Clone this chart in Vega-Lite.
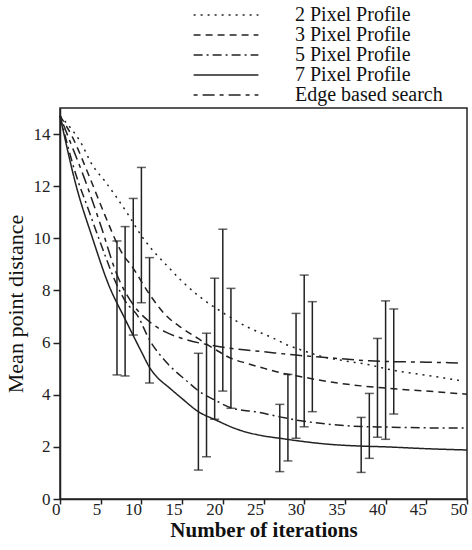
{
  "$schema": "https://vega.github.io/schema/vega-lite/v6.json",
  "width": 407,
  "height": 391,
  "autosize": {"type": "none"},
  "padding": {"left": 60, "top": 108, "right": 5, "bottom": 51},
  "background": "white",
  "config": {
    "view": {"stroke": "#222", "strokeWidth": 1.5},
    "font": "Liberation Serif",
    "axis": {
      "domainColor": "#222", "domainWidth": 1.5, "tickColor": "#222", "tickWidth": 1.5,
      "labelFont": "Liberation Serif", "labelColor": "#222", "labelFontSize": 17,
      "titleFont": "Liberation Serif", "titleColor": "#111", "grid": false
    },
    "legend": {
      "labelFont": "Liberation Serif", "labelFontSize": 20, "labelColor": "#111",
      "symbolType": "M-3.6,0H3.6", "symbolSize": 324, "symbolStrokeWidth": 1.5, "symbolStrokeColor": "#222",
      "symbolFillColor": "transparent",
      "rowPadding": -8.5, "labelOffset": 59
    }
  },
  "datasets": {
    "curves": [
      {"series": "7 Pixel Profile", "x": 0, "y": 14.7},
      {"series": "7 Pixel Profile", "x": 2, "y": 12.0},
      {"series": "7 Pixel Profile", "x": 4, "y": 10.0},
      {"series": "7 Pixel Profile", "x": 6, "y": 8.2},
      {"series": "7 Pixel Profile", "x": 8, "y": 6.9},
      {"series": "7 Pixel Profile", "x": 10, "y": 5.65},
      {"series": "7 Pixel Profile", "x": 11, "y": 5.05},
      {"series": "7 Pixel Profile", "x": 12, "y": 4.65},
      {"series": "7 Pixel Profile", "x": 13.3, "y": 4.3},
      {"series": "7 Pixel Profile", "x": 15, "y": 3.85},
      {"series": "7 Pixel Profile", "x": 17, "y": 3.35},
      {"series": "7 Pixel Profile", "x": 19, "y": 3.05},
      {"series": "7 Pixel Profile", "x": 22, "y": 2.65},
      {"series": "7 Pixel Profile", "x": 25, "y": 2.42},
      {"series": "7 Pixel Profile", "x": 27, "y": 2.33},
      {"series": "7 Pixel Profile", "x": 30, "y": 2.2},
      {"series": "7 Pixel Profile", "x": 33, "y": 2.1},
      {"series": "7 Pixel Profile", "x": 37, "y": 2.03},
      {"series": "7 Pixel Profile", "x": 40, "y": 2.0},
      {"series": "7 Pixel Profile", "x": 45, "y": 1.93},
      {"series": "7 Pixel Profile", "x": 50, "y": 1.88},

      {"series": "5 Pixel Profile", "x": 0, "y": 14.7},
      {"series": "5 Pixel Profile", "x": 2, "y": 12.4},
      {"series": "5 Pixel Profile", "x": 3.5, "y": 11.1},
      {"series": "5 Pixel Profile", "x": 5, "y": 9.8},
      {"series": "5 Pixel Profile", "x": 7, "y": 8.2},
      {"series": "5 Pixel Profile", "x": 8, "y": 7.6},
      {"series": "5 Pixel Profile", "x": 9.6, "y": 7.0},
      {"series": "5 Pixel Profile", "x": 11, "y": 6.1},
      {"series": "5 Pixel Profile", "x": 12.5, "y": 5.45},
      {"series": "5 Pixel Profile", "x": 14, "y": 4.95},
      {"series": "5 Pixel Profile", "x": 15.5, "y": 4.55},
      {"series": "5 Pixel Profile", "x": 17, "y": 4.15},
      {"series": "5 Pixel Profile", "x": 19, "y": 3.8},
      {"series": "5 Pixel Profile", "x": 21, "y": 3.5},
      {"series": "5 Pixel Profile", "x": 24.5, "y": 3.32},
      {"series": "5 Pixel Profile", "x": 27, "y": 3.15},
      {"series": "5 Pixel Profile", "x": 30, "y": 2.98},
      {"series": "5 Pixel Profile", "x": 33, "y": 2.87},
      {"series": "5 Pixel Profile", "x": 37, "y": 2.78},
      {"series": "5 Pixel Profile", "x": 40, "y": 2.76},
      {"series": "5 Pixel Profile", "x": 45, "y": 2.73},
      {"series": "5 Pixel Profile", "x": 50, "y": 2.72},

      {"series": "3 Pixel Profile", "x": 0, "y": 14.7},
      {"series": "3 Pixel Profile", "x": 1.5, "y": 13.9},
      {"series": "3 Pixel Profile", "x": 3.5, "y": 12.45},
      {"series": "3 Pixel Profile", "x": 5.5, "y": 10.9},
      {"series": "3 Pixel Profile", "x": 7.5, "y": 9.5},
      {"series": "3 Pixel Profile", "x": 9, "y": 8.85},
      {"series": "3 Pixel Profile", "x": 11, "y": 7.85},
      {"series": "3 Pixel Profile", "x": 13, "y": 7.05},
      {"series": "3 Pixel Profile", "x": 15, "y": 6.55},
      {"series": "3 Pixel Profile", "x": 17, "y": 6.15},
      {"series": "3 Pixel Profile", "x": 19, "y": 5.75},
      {"series": "3 Pixel Profile", "x": 21, "y": 5.4},
      {"series": "3 Pixel Profile", "x": 23, "y": 5.2},
      {"series": "3 Pixel Profile", "x": 25, "y": 5.02},
      {"series": "3 Pixel Profile", "x": 27, "y": 4.85},
      {"series": "3 Pixel Profile", "x": 29, "y": 4.73},
      {"series": "3 Pixel Profile", "x": 33, "y": 4.5},
      {"series": "3 Pixel Profile", "x": 37, "y": 4.34},
      {"series": "3 Pixel Profile", "x": 41, "y": 4.23},
      {"series": "3 Pixel Profile", "x": 45, "y": 4.14},
      {"series": "3 Pixel Profile", "x": 50, "y": 4.02},

      {"series": "2 Pixel Profile", "x": 0, "y": 14.7},
      {"series": "2 Pixel Profile", "x": 1, "y": 14.35},
      {"series": "2 Pixel Profile", "x": 2.5, "y": 13.7},
      {"series": "2 Pixel Profile", "x": 4, "y": 12.8},
      {"series": "2 Pixel Profile", "x": 5.5, "y": 12.2},
      {"series": "2 Pixel Profile", "x": 7, "y": 11.55},
      {"series": "2 Pixel Profile", "x": 8.5, "y": 10.85},
      {"series": "2 Pixel Profile", "x": 10, "y": 10.1},
      {"series": "2 Pixel Profile", "x": 11.5, "y": 9.5},
      {"series": "2 Pixel Profile", "x": 13, "y": 9.0},
      {"series": "2 Pixel Profile", "x": 15, "y": 8.35},
      {"series": "2 Pixel Profile", "x": 17, "y": 7.8},
      {"series": "2 Pixel Profile", "x": 20, "y": 7.15},
      {"series": "2 Pixel Profile", "x": 23, "y": 6.6},
      {"series": "2 Pixel Profile", "x": 26, "y": 6.2},
      {"series": "2 Pixel Profile", "x": 28, "y": 5.9},
      {"series": "2 Pixel Profile", "x": 30, "y": 5.68},
      {"series": "2 Pixel Profile", "x": 32, "y": 5.48},
      {"series": "2 Pixel Profile", "x": 35, "y": 5.3},
      {"series": "2 Pixel Profile", "x": 38, "y": 5.15},
      {"series": "2 Pixel Profile", "x": 40, "y": 5.0},
      {"series": "2 Pixel Profile", "x": 42, "y": 4.88},
      {"series": "2 Pixel Profile", "x": 45, "y": 4.75},
      {"series": "2 Pixel Profile", "x": 49, "y": 4.55},

      {"series": "Edge based search", "x": 0, "y": 14.7},
      {"series": "Edge based search", "x": 1, "y": 13.9},
      {"series": "Edge based search", "x": 3, "y": 12.3},
      {"series": "Edge based search", "x": 5, "y": 10.5},
      {"series": "Edge based search", "x": 7, "y": 8.6},
      {"series": "Edge based search", "x": 9, "y": 7.45},
      {"series": "Edge based search", "x": 11, "y": 6.8},
      {"series": "Edge based search", "x": 13, "y": 6.4},
      {"series": "Edge based search", "x": 15, "y": 6.16},
      {"series": "Edge based search", "x": 18, "y": 5.93},
      {"series": "Edge based search", "x": 21, "y": 5.78},
      {"series": "Edge based search", "x": 25, "y": 5.65},
      {"series": "Edge based search", "x": 29, "y": 5.52},
      {"series": "Edge based search", "x": 33, "y": 5.42},
      {"series": "Edge based search", "x": 38, "y": 5.3},
      {"series": "Edge based search", "x": 41, "y": 5.27},
      {"series": "Edge based search", "x": 45, "y": 5.25},
      {"series": "Edge based search", "x": 49, "y": 5.22}
    ],
    "bars": [
      {"series": "7 Pixel Profile", "x": 7, "lo": 4.76, "hi": 9.9},
      {"series": "7 Pixel Profile", "x": 17, "lo": 1.11, "hi": 5.59},
      {"series": "7 Pixel Profile", "x": 27, "lo": 1.05, "hi": 3.63},
      {"series": "7 Pixel Profile", "x": 37, "lo": 1.02, "hi": 3.13},
      {"series": "5 Pixel Profile", "x": 8, "lo": 4.72, "hi": 10.45},
      {"series": "5 Pixel Profile", "x": 18, "lo": 1.62, "hi": 6.36},
      {"series": "5 Pixel Profile", "x": 28, "lo": 1.46, "hi": 4.78},
      {"series": "5 Pixel Profile", "x": 38, "lo": 1.56, "hi": 4.05},
      {"series": "3 Pixel Profile", "x": 9, "lo": 6.29, "hi": 11.53},
      {"series": "3 Pixel Profile", "x": 19, "lo": 3.06, "hi": 8.47},
      {"series": "3 Pixel Profile", "x": 29, "lo": 2.33, "hi": 7.12},
      {"series": "3 Pixel Profile", "x": 39, "lo": 2.37, "hi": 6.16},
      {"series": "2 Pixel Profile", "x": 10, "lo": 7.53, "hi": 12.72},
      {"series": "2 Pixel Profile", "x": 20, "lo": 4.14, "hi": 10.35},
      {"series": "2 Pixel Profile", "x": 30, "lo": 2.77, "hi": 8.59},
      {"series": "2 Pixel Profile", "x": 40, "lo": 2.29, "hi": 7.6},
      {"series": "Edge based search", "x": 11, "lo": 4.45, "hi": 9.26},
      {"series": "Edge based search", "x": 21, "lo": 3.48, "hi": 8.08},
      {"series": "Edge based search", "x": 31, "lo": 3.35, "hi": 7.57},
      {"series": "Edge based search", "x": 41, "lo": 3.26, "hi": 7.29}
    ]
  },
  "layer": [
    {
      "data": {"name": "curves"},
      "mark": {"type": "line", "interpolate": "monotone", "strokeWidth": 1.5, "color": "#222"},
      "encoding": {
        "x": {
          "field": "x", "type": "quantitative", "title": "Number of iterations",
          "scale": {"domain": [0, 50], "nice": false, "zero": false},
          "axis": {
            "values": [0, 5, 10, 15, 20, 25, 30, 35, 40, 45, 50],
            "tickSize": 5, "labelAlign": "right", "labelDx": -3, "labelPadding": -3,
            "labelFont": "Liberation Serif", "labelFontSize": 17,
            "titleFont": "Liberation Serif", "titleFontSize": 21, "titleFontWeight": "bold", "titlePadding": 2
          }
        },
        "y": {
          "field": "y", "type": "quantitative", "title": "Mean point distance",
          "scale": {"domain": [0, 15], "nice": false},
          "axis": {
            "values": [0, 2, 4, 6, 8, 10, 12, 14],
            "tickSize": 7, "labelPadding": 3, "labelDy": -8,
            "labelFont": "Liberation Serif", "labelFontSize": 17,
            "titleFont": "Liberation Serif", "titleFontSize": 22, "titleFontWeight": "normal", "titlePadding": 6
          }
        },
        "strokeDash": {
          "field": "series", "type": "nominal",
          "scale": {
            "domain": ["2 Pixel Profile", "3 Pixel Profile", "5 Pixel Profile", "7 Pixel Profile", "Edge based search"],
            "range": [[2, 5], [7, 5], [9, 4, 2, 4], [1, 0], [4, 5, 12, 5]]
          },
          "legend": {"title": null, "orient": "none", "legendX": 156, "legendY": -103}
        }
      }
    },
    {
      "data": {"name": "bars"},
      "mark": {"type": "errorbar", "ticks": {"size": 9, "thickness": 1.5, "color": "#222"}, "rule": {"strokeWidth": 1.5, "color": "#222"}},
      "encoding": {
        "x": {"field": "x", "type": "quantitative", "title": "Number of iterations"},
        "y": {"field": "lo", "type": "quantitative", "title": "Mean point distance"},
        "y2": {"field": "hi"}
      }
    }
  ]
}
